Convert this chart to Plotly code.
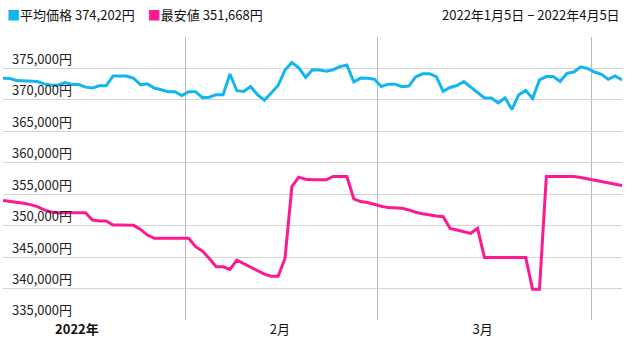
import pandas as pd
import plotly.graph_objects as go

dates = pd.date_range("2022-01-05", "2022-04-05", freq="D")

avg_price = [
    373440, 373390, 373070, 373020, 372970, 372920, 372550, 372340, 372340, 372760,
    372450, 372450, 372030, 371880, 372240, 372240, 373800, 373800, 373800, 373440,
    372400, 372550, 371880, 371610, 371300, 371300, 370680, 371300, 371300, 370360,
    370420, 370830, 370830, 374110, 371460, 371350, 372140, 370830, 369950, 371090,
    372290, 374740, 375940, 375100, 373590, 374790, 374740, 374560, 374800, 375300,
    375550, 372880, 373470, 373440, 373280, 372140, 372500, 372500, 372100, 372200,
    373650, 374150, 374170, 373700, 371350, 371980, 372290, 372920, 372030, 371090,
    370310, 370310, 369530, 370310, 368490, 370830, 371510, 370210, 373180, 373700,
    373700, 372920, 374220, 374430, 375260, 375000, 374430, 374060, 373280, 373800,
    373180,
]

min_price = [
    353990, 353880, 353720, 353560, 353350, 353030, 352500, 352180, 352070, 352070,
    352070, 352070, 352070, 350900, 350740, 350740, 350110, 350110, 350110, 350050,
    349410, 348510, 347980, 347980, 347980, 347980, 347980, 347980, 346650, 345960,
    344790, 343460, 343460, 343030, 344520, 343990, 343460, 342920, 342290, 341970,
    341970, 344790, 356220, 357710, 357390, 357290, 357290, 357290, 357820, 357820,
    357820, 354260, 353830, 353670, 353350, 353080, 352870, 352870, 352770, 352500,
    352130, 351910, 351700, 351540, 351430, 349570, 349310, 349040, 348780, 349570,
    344950, 344950, 344950, 344950, 344950, 344950, 344950, 339900, 339900, 357820,
    357820, 357820, 357820, 357820, 357660, 357450, 357230, 357020, 356810, 356600,
    356380,
]

y_ticks = [335000, 340000, 345000, 350000, 355000, 360000, 365000, 370000, 375000, 380000]
y_labels = [f"{v:,}円" for v in y_ticks[:-1]] + [""]

month_label_pos = ["2022-01-15 18:00", "2022-02-14 06:00", "2022-03-15 18:00"]
month_labels = ["<b>2022年</b>", "2月", "3月"]
month_grid_pos = ["2022-01-31 12:00", "2022-02-28 12:00", "2022-03-31 12:00"]

avg_label = "平均価格 374,202円"
min_label = "最安値 351,668円"
period_label = "2022年1月5日 − 2022年4月5日"

BLUE = "#12b5f0"
PINK = "#fc1a94"
FONT = "Noto Sans CJK JP"

fig = go.Figure()
fig.add_trace(go.Scatter(x=dates, y=avg_price, mode="lines",
                         line=dict(color=BLUE, width=3), name="平均価格"))
fig.add_trace(go.Scatter(x=dates, y=min_price, mode="lines",
                         line=dict(color=PINK, width=3), name="最安値"))

fig.update_layout(
    width=632, height=356,
    margin=dict(l=3, r=10, t=37, b=36),
    paper_bgcolor="white", plot_bgcolor="white",
    showlegend=False,
    font=dict(family=FONT, size=12, color="#222222"),
    xaxis=dict(
        type="date", automargin=False,
        range=["2022-01-05", "2022-04-05"],
        tickmode="array", tickvals=month_label_pos, ticktext=month_labels,
        showgrid=False, zeroline=False, showline=False, ticks="",
        tickfont=dict(size=13, color="#111111"),
        minor=dict(tickmode="array", tickvals=month_grid_pos, showgrid=True,
                   gridcolor="#b8b8b8", gridwidth=1, ticks=""),
    ),
    yaxis=dict(
        automargin=False,
        range=[335000, 380000],
        tickmode="array", tickvals=y_ticks, ticktext=y_labels,
        ticklabelposition="inside top",
        showgrid=True, gridcolor="#d4d4d4", gridwidth=1,
        zeroline=False, showline=False, ticks="",
        tickfont=dict(size=13, color="#222222"),
        ticklabelstandoff=6,
    ),
)

fig.add_annotation(
    xref="paper", yref="paper", x=0, y=1, xanchor="left", yanchor="middle",
    xshift=2, yshift=23, showarrow=False,
    text=f'<span style="color:{BLUE}">■</span>{avg_label}　<span style="color:{PINK}">■</span>{min_label}',
    font=dict(size=13, color="#111111", family=FONT),
)
fig.add_annotation(
    xref="paper", yref="paper", x=1, y=1, xanchor="right", yanchor="middle",
    xshift=0, yshift=23, showarrow=False,
    text=period_label,
    font=dict(size=13, color="#111111", family=FONT),
)

fig.write_html(
    "out.html",
    config={"displayModeBar": False},
    post_script="document.body.style.margin='0';document.body.style.overflow='hidden';",
)
